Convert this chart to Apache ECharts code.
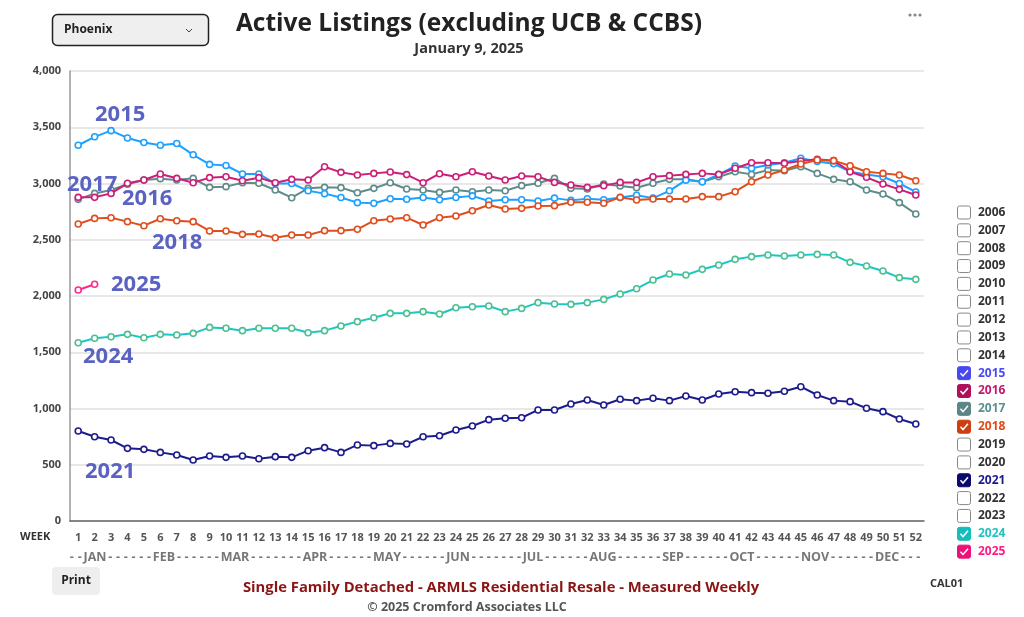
<!DOCTYPE html>
<html><head><meta charset="utf-8">
<script src="https://cdn.jsdelivr.net/npm/echarts@6/dist/echarts.min.js"></script>
<style>html,body{margin:0;padding:0;background:#fff}#c{width:1024px;height:617px}</style>
</head><body><div id="c"></div>
<script>
const weeks = ['1','2','3','4','5','6','7','8','9','10','11','12','13','14','15','16','17','18','19','20','21','22','23','24','25','26','27','28','29','30','31','32','33','34','35','36','37','38','39','40','41','42','43','44','45','46','47','48','49','50','51','52'];
const yTicks = [0,500,1000,1500,2000,2500,3000,3500,4000];
const s2015 = [3340,3415,3470,3405,3365,3340,3355,3255,3170,3160,3085,3085,3000,3000,2935,2910,2875,2830,2825,2865,2860,2875,2855,2875,2890,2845,2855,2855,2845,2870,2850,2865,2855,2875,2895,2870,2935,3030,3015,3080,3155,3135,3165,3185,3225,3195,3175,3105,3080,3060,3000,2925];
const s2016 = [2877,2877,2912,3002,3031,3084,3046,3007,3052,3060,3025,3052,3007,3037,3031,3149,3099,3075,3090,3102,3079,3007,3087,3060,3105,3067,3031,3067,3060,3010,2987,2966,2981,3010,3010,3060,3070,3081,3090,3081,3135,3185,3185,3179,3200,3215,3203,3105,3055,2996,2948,2898];
const s2017 = [2859,2912,2942,2993,3031,3043,3031,3046,2966,2972,3007,3002,2942,2874,2957,2966,2963,2918,2957,3007,2951,2942,2921,2942,2927,2942,2936,2981,3002,3046,2957,2951,2996,2978,2963,3002,3037,3037,3016,3060,3105,3081,3120,3114,3150,3090,3037,3016,2942,2907,2830,2729];
const s2018 = [2640,2690,2696,2661,2625,2687,2669,2661,2578,2578,2548,2551,2518,2542,2542,2581,2581,2593,2669,2684,2696,2631,2696,2711,2758,2809,2773,2779,2800,2803,2833,2833,2824,2877,2853,2862,2862,2862,2883,2883,2927,3016,3075,3120,3173,3209,3203,3158,3105,3090,3075,3025];
const s2021 = [800,749,720,646,637,610,587,542,578,566,578,554,572,566,625,652,610,676,670,690,684,749,758,809,844,901,913,918,987,987,1040,1076,1031,1082,1070,1091,1070,1111,1076,1129,1149,1141,1135,1153,1194,1120,1070,1061,1002,972,907,862];
const s2024 = [1585,1624,1638,1659,1629,1659,1653,1668,1721,1713,1692,1713,1713,1713,1674,1692,1733,1772,1807,1846,1846,1861,1840,1896,1905,1911,1861,1890,1941,1929,1926,1941,1970,2018,2065,2142,2196,2187,2237,2276,2326,2350,2364,2356,2364,2370,2364,2299,2267,2222,2163,2148];
const s2025 = [2053,2104];
const legendYears = ['2006','2007','2008','2009','2010','2011','2012','2013','2014','2015','2016','2017','2018','2019','2020','2021','2022','2023','2024','2025'];
const checkedYears = {'2015':['#4848f0','#4a4af5'],'2016':['#b0105a','#c4176f'],'2017':['#5a8686','#5a9090'],'2018':['#cc3f10','#e04a18'],'2021':['#0a0a6e','#1a1a90'],'2024':['#14bcbc','#22c2c2'],'2025':['#ee107a','#ff1a86']};
const overlayLabels = [['2015',95,115],['2017',67,185],['2016',122,199],['2018',152,243],['2025',111,285],['2024',83,357],['2021',85,472]];
const months = ['JAN','FEB','MAR','APR','MAY','JUN','JUL','AUG','SEP','OCT','NOV','DEC'];
const monthDashes = [2,6,6,7,6,6,7,6,6,6,6,6,3];

const FF = '"Open Sans", sans-serif';
function mk(name, data, color, border, z) {
  return {
    name, type: 'line', data, z: z,
    symbol: 'circle', symbolSize: 6, showSymbol: true,
    lineStyle: {color: color, width: 2},
    itemStyle: {color: '#fff', borderColor: border || color, borderWidth: 1.6},
    emphasis: {disabled: true}, animation: false
  };
}
const g = [];
// dropdown
g.push({type:'rect', shape:{x:52.5,y:14.5,width:156,height:31,r:5}, style:{fill:'#efefef',stroke:'#222',lineWidth:1.5}});
g.push({type:'text', x:64, y:30, style:{text:'Phoenix', font:'700 12px '+FF, fill:'#222', textVerticalAlign:'middle'}});
g.push({type:'polyline', shape:{points:[[186,29],[189,32],[192,29]]}, style:{stroke:'#444',lineWidth:1,fill:null}});
// dots
[910,915,920].forEach(x=>g.push({type:'circle', shape:{cx:x,cy:15,r:1.6}, style:{fill:'#888'}}));
// print button
g.push({type:'rect', shape:{x:52,y:567,width:48,height:28,r:4}, style:{fill:'#eeeeee'}});
g.push({type:'text', x:76, y:581, style:{text:'Print', font:'700 12px '+FF, fill:'#222', textAlign:'center', textVerticalAlign:'middle'}});
// subtitle
g.push({type:'text', x:469, y:49, style:{text:'January 9, 2025', font:'700 14.5px '+FF, fill:'#333', textAlign:'center', textVerticalAlign:'middle'}});
// axis extras
g.push({type:'text', x:20, y:537, style:{text:'WEEK', font:'700 11px '+FF, fill:'#333', textVerticalAlign:'middle'}});
// month row: labels centered at positions, dashes spread evenly in the gaps
(function(){
  const mfont = '700 12.5px '+FF;
  const cv = document.createElement('canvas').getContext('2d');
  cv.font = mfont;
  const centers = [95,164,235,315,387,458,533,603,673,742,815,887];
  const edges = [];
  let prevEnd = 68;
  months.forEach((m,i)=>{
    const w = cv.measureText(m).width;
    const s = centers[i]-w/2, e = centers[i]+w/2;
    edges.push([prevEnd, s]);
    prevEnd = e;
    g.push({type:'text', x:centers[i], y:557, style:{text:m, font:mfont, fill:'#777', textAlign:'center', textVerticalAlign:'middle'}});
  });
  edges.push([prevEnd, 922]);
  edges.forEach((ed,i)=>{
    const n = monthDashes[i];
    const step = (ed[1]-ed[0])/n;
    for (let k=0;k<n;k++) {
      g.push({type:'text', x:ed[0]+step*(k+0.5), y:557, style:{text:'-', font:mfont, fill:'#777', textAlign:'center', textVerticalAlign:'middle'}});
    }
  });
})();
// footer
g.push({type:'text', x:501, y:588, style:{text:'Single Family Detached - ARMLS Residential Resale - Measured Weekly', font:'700 14.8px '+FF, fill:'#8b1414', textAlign:'center', textVerticalAlign:'middle'}});
g.push({type:'text', x:467, y:607, style:{text:'\u00a9 2025 Cromford Associates LLC', font:'700 12.5px '+FF, fill:'#555', textAlign:'center', textVerticalAlign:'middle'}});
g.push({type:'text', x:930, y:584, style:{text:'CAL01', font:'700 11px '+FF, fill:'#333', textVerticalAlign:'middle'}});
// overlay labels
overlayLabels.forEach(l=>g.push({type:'text', x:l[1], y:l[2], z:100, style:{text:l[0], font:'700 22px '+FF, fill:'#5a63c2', textVerticalAlign:'middle'}}));
// legend checkboxes
legendYears.forEach((yr,i)=>{
  const cy = 212.5 + i*17.85;
  const c = checkedYears[yr];
  if (c) {
    g.push({type:'rect', shape:{x:957.5,y:cy-6.5,width:13,height:13,r:2}, style:{fill:c[0],stroke:c[0],lineWidth:1}});
    g.push({type:'polyline', shape:{points:[[960.5,cy],[963,cy+2.8],[968,cy-3]]}, style:{stroke:'#fff',lineWidth:1.5,fill:null}});
  } else {
    g.push({type:'rect', shape:{x:957.5,y:cy-6.5,width:13,height:13,r:2}, style:{fill:'#fff',stroke:'#888',lineWidth:1}});
  }
  g.push({type:'text', x:978, y:cy, style:{text:yr, font:'700 12px '+FF, fill:c?c[1]:'#333', textVerticalAlign:'middle'}});
});

const chart = echarts.init(document.getElementById('c'), null, {renderer:'canvas'});
chart.setOption({
  backgroundColor:'#fff',
  animation:false,
  textStyle:{fontFamily:FF},
  title:{text:'Active Listings (excluding UCB & CCBS)', left:464, top:7, textAlign:'center',
    textStyle:{fontSize:24.5, fontWeight:'bold', color:'#222', fontFamily:FF}},
  grid:{left:70, right:100, top:71, height:450},
  xAxis:{type:'category', data:weeks, boundaryGap:true,
    axisTick:{show:false}, axisLine:{lineStyle:{color:'#666',width:1.5}},
    axisLabel:{interval:0, color:'#555', fontWeight:'bold', fontSize:11, margin:11, fontFamily:FF}},
  yAxis:{type:'value', min:yTicks[0], max:yTicks[yTicks.length-1], interval:500,
    axisLine:{show:true, lineStyle:{color:'#999',width:1.5}}, axisTick:{show:false},
    axisLabel:{color:'#444', fontWeight:'bold', fontSize:11, margin:9, fontFamily:FF},
    splitLine:{lineStyle:{color:'#e0e0e0',width:1.5}}},
  series:[
    mk('2024', s2024, '#1cc6c6', '#4cc08e', 2),
    mk('2021', s2021, '#1c1c8c', null, 2),
    mk('2017', s2017, '#5e8c8a', null, 3),
    mk('2015', s2015, '#1ea0ff', null, 4),
    mk('2016', s2016, '#cc1f77', null, 5),
    mk('2018', s2018, '#e04e1e', null, 6),
    mk('2025', s2025, '#ff2a8a', null, 7)
  ],
  graphic:g
});
</script></body></html>
